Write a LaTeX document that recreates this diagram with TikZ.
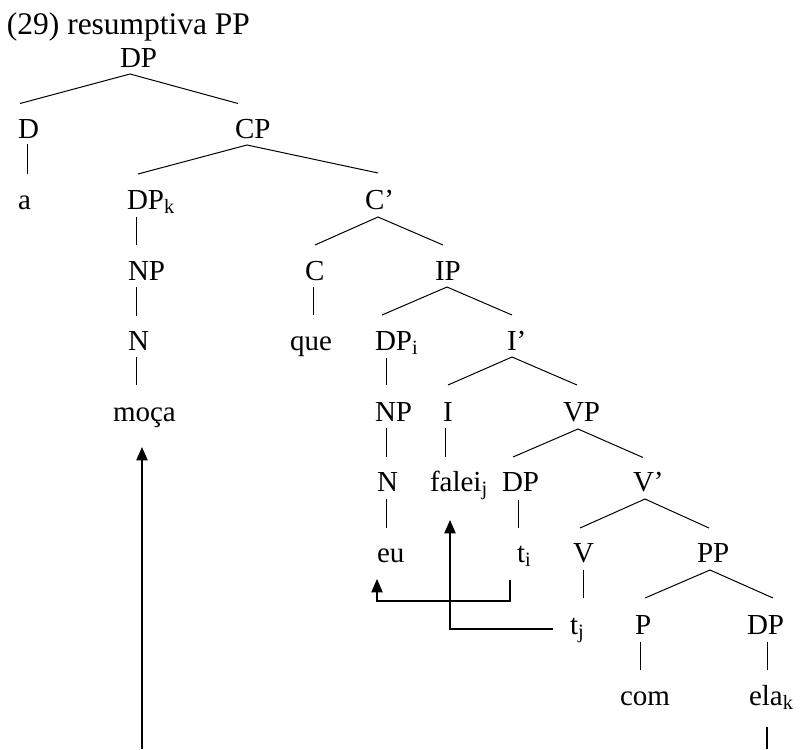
\documentclass[tikz,border=0pt]{standalone}
\usepackage{fontspec}
\setmainfont{Liberation Serif}
\usetikzlibrary{calc,arrows.meta}
\begin{document}
\begin{tikzpicture}[x=0.75pt,y=-0.75pt,
  lbl/.style={inner sep=0pt,outer sep=0pt,anchor=base west,text height=14.25pt,text depth=3.75pt,font=\fontsize{21.75}{26}\selectfont},
  ttl/.style={inner sep=0pt,outer sep=0pt,anchor=base west,font=\fontsize{23.6}{28}\selectfont},
  br/.style={line width=0.75pt},
  mv/.style={line width=0.9pt,-{Triangle[length=10pt,width=8.5pt]}}]
\useasboundingbox (0,0) rectangle (805,749);
\node[ttl] (title) at (7,35) {(29) resumptiva PP};
% nodes
\node[lbl] (dp) at (120,68) {DP};
\node[lbl] (d) at (18,138.5) {D};
\node[lbl] (cp) at (235,138.5) {CP};
\node[lbl] (a) at (18,209) {a};
\node[lbl] (dpk) at (127,209) {DP\textsubscript{k}};
\node[lbl] (cbar) at (365,209) {C’};
\node[lbl] (np1) at (128,280) {NP};
\node[lbl] (c) at (305,280) {C};
\node[lbl] (ip) at (435,280) {IP};
\node[lbl] (n1) at (128,350.5) {N};
\node[lbl] (que) at (290,350.5) {que};
\node[lbl] (dpi) at (375,350.5) {DP\textsubscript{i}};
\node[lbl] (ibar) at (507,350.5) {I’};
\node[lbl] (moca) at (113,421) {moça};
\node[lbl] (np2) at (375,421) {NP};
\node[lbl] (i) at (443,421) {I};
\node[lbl] (vp) at (563,421) {VP};
\node[lbl] (n2) at (377,491.5) {N};
\node[lbl] (falei) at (430,491.5) {falei\textsubscript{j}};
\node[lbl] (dp2) at (502,491.5) {DP};
\node[lbl] (vbar) at (633,491.5) {V’};
\node[lbl] (eu) at (377,562) {eu};
\node[lbl] (ti) at (517,562) {t\textsubscript{i}};
\node[lbl] (v) at (573,562) {V};
\node[lbl] (pp) at (697,562) {PP};
\node[lbl] (tj) at (570,634) {t\textsubscript{j}};
\node[lbl] (p) at (635,634) {P};
\node[lbl] (dp3) at (747,634) {DP};
\node[lbl] (com) at (620,705) {com};
\node[lbl] (ela) at (749,705) {ela\textsubscript{k}};
% branches
\draw[br] ($(d.north west)+(2,-16)$) -- ($(dp.south west)+(10,1)$) -- ($(cp.north west)+(3,-16)$);
\draw[br] ($(d.south west)+(9,0)$) -- ($(a.north west)+(9,-16)$);
\draw[br] ($(dpk.north west)+(11,-16)$) -- ($(cp.south west)+(12,1.5)$) -- ($(cbar.north west)+(13,-17)$);
\draw[br] ($(dpk.south west)+(9,3)$) -- ($(np1.north west)+(8,-16)$);
\draw[br] ($(np1.south west)+(8,2)$) -- ($(n1.north west)+(8,-16)$);
\draw[br] ($(n1.south west)+(8,1.5)$) -- ($(moca.north west)+(23,-17)$);
\draw[br] ($(c.north west)+(10,-16)$) -- ($(cbar.south west)+(13,3)$) -- ($(ip.north west)+(8,-16)$);
\draw[br] ($(c.south west)+(8,2)$) -- ($(que.north west)+(23,-16.5)$);
\draw[br] ($(dpi.north west)+(7,-16.5)$) -- ($(ip.south west)+(12,2)$) -- ($(ibar.north west)+(5,-16.5)$);
\draw[br] ($(dpi.south west)+(11,2.5)$) -- ($(np2.north west)+(11,-17)$);
\draw[br] ($(i.north west)+(5,-17)$) -- ($(ibar.south west)+(5,1.5)$) -- ($(vp.north west)+(14,-17)$);
\draw[br] ($(np2.south west)+(11,2)$) -- ($(n2.north west)+(9,-15.5)$);
\draw[br] ($(i.south west)+(2,2)$) -- ($(falei.north west)+(15,-15.5)$);
\draw[br] ($(dp2.north west)+(11,-15.5)$) -- ($(vp.south west)+(15,3)$) -- ($(vbar.north west)+(10,-15)$);
\draw[br] ($(n2.south west)+(9,2)$) -- ($(eu.north west)+(9,-15)$);
\draw[br] ($(dp2.south west)+(16,3.5)$) -- ($(ti.north west)+(1,-15)$);
\draw[br] ($(v.north west)+(7,-15)$) -- ($(vbar.south west)+(12,2.5)$) -- ($(pp.north west)+(12,-15)$);
\draw[br] ($(v.south west)+(10,3)$) -- ($(tj.north west)+(13,-17)$);
\draw[br] ($(p.north west)+(10,-17)$) -- ($(pp.south west)+(13,3)$) -- ($(dp3.north west)+(26,-17)$);
\draw[br] ($(p.south west)+(5,3)$) -- ($(com.north west)+(20,-16)$);
\draw[br] ($(dp3.south west)+(20,3)$) -- ($(ela.north west)+(18,-16)$);
% movement lines
\coordinate (elabot) at (767,749);
\coordinate (mocabot) at (142,749);
\draw[line width=0.9pt] ($(ela.south west)+(18,17)$) -- (elabot);
\draw[mv] (mocabot) -- ($(moca.south west)+(29,21)$);
\draw[mv] ($(ti.south west)+(-7,13)$) -- ++(0,21) -| ($(eu.south west)+(0,12)$);
\draw[mv] ($(tj.base west)+(-17,-5)$) -| ($(falei.south west)+(20,23.5)$);
\end{tikzpicture}
\end{document}
